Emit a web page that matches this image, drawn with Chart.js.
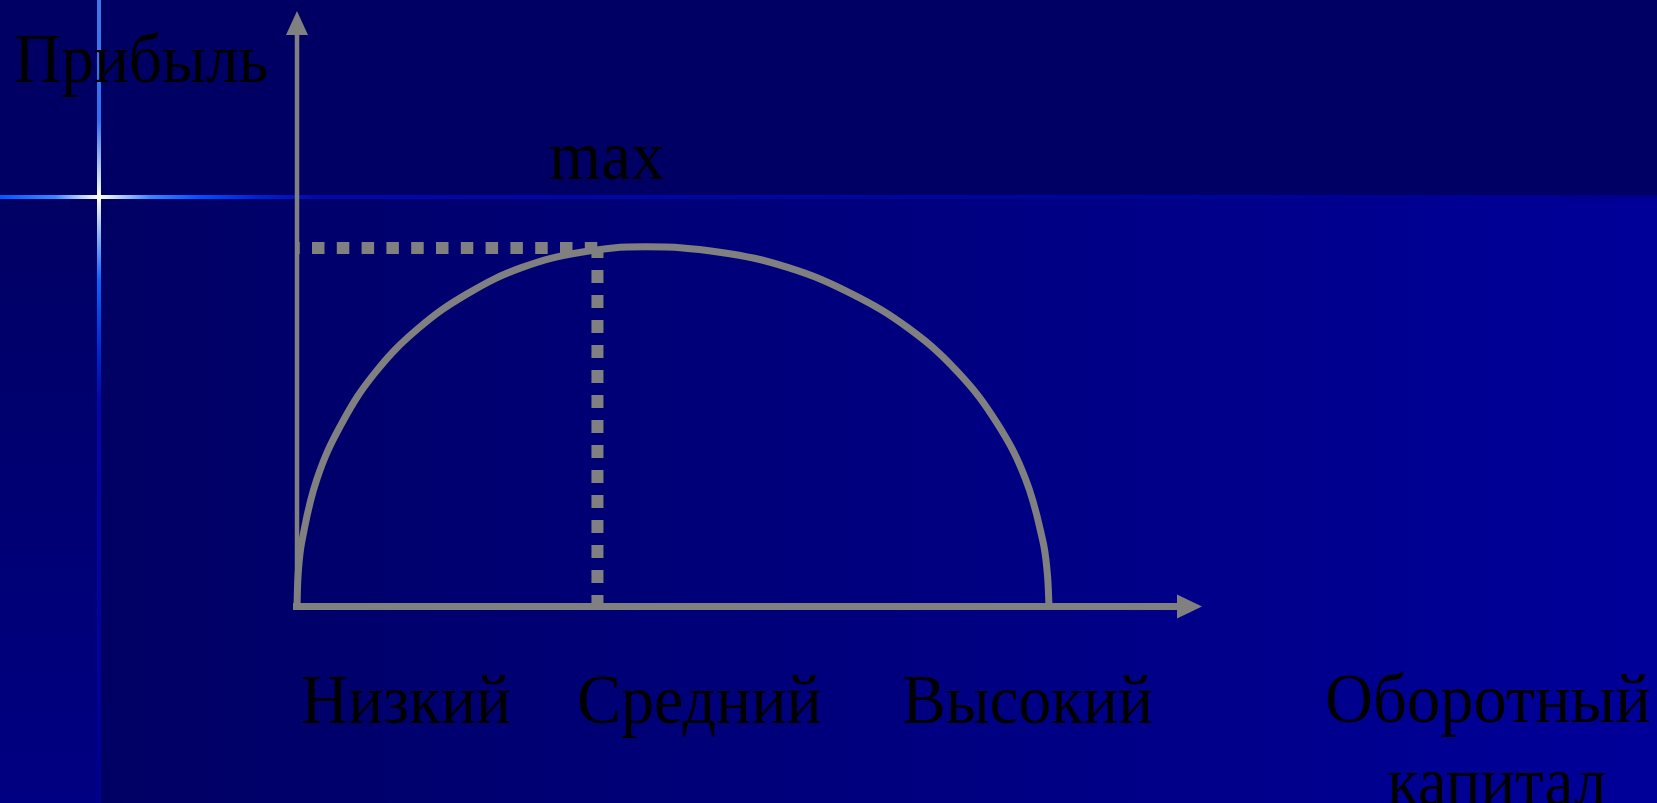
<!DOCTYPE html>
<html>
<head>
<meta charset="utf-8">
<script src="https://cdn.jsdelivr.net/npm/chart.js@4.4.1/dist/chart.umd.min.js"></script>
<style>
  html, body { margin: 0; padding: 0; background: #000066; overflow: hidden; }
  canvas { display: block; }
</style>
</head>
<body>
<canvas id="c" width="1657" height="803"></canvas>
<script>
// ---------------- DATA ----------------
// working capital (x, % of axis length) and profit (y, % of axis height) along the curve
const capital = [0, 0.14, 0.56, 2.2, 5.0, 8.7, 13.4, 18.8, 24.8, 31.4, 38.5,
                 46.7, 54.3, 61.3, 67.6, 73.0, 77.3, 80.5, 82.4, 82.9, 83.1];
const profit  = [0, 5.7, 11.1, 21.4, 30.9, 39.4, 46.7, 52.5, 56.9, 59.5, 60.4,
                 59.5, 56.9, 52.5, 46.7, 39.4, 30.9, 21.4, 11.1, 5.7, 0];
// optimum point
const maxCapital = [33.2];
const maxProfit  = [60.2];
// axis extents
const axisMax = [100];
// texts
const categoryLabels = ['Низкий', 'Средний', 'Высокий'];
const yTitle = ['Прибыль'];
const xTitle = ['Оборотный', 'капитал'];
const maxLabel = ['max'];

// ---------------- LAYOUT / STYLE ----------------
const W = 1657, H = 803;
const GRAY = '#808080';
const FONT = '69px "Liberation Serif", "Times New Roman", serif';
// text boxes: [text, inkLeft, inkRight, baseline]
const textBoxes = [
  [yTitle[0], 15, 267, 82],
  [maxLabel[0], 550, 664, 179],
  [categoryLabels[0], 302, 510, 723],
  [categoryLabels[1], 579, 821, 723],
  [categoryLabels[2], 903, 1152, 723],
  [xTitle[0], 1327, 1650, 722],
  [xTitle[1], 1388, 1605, 805]
];

const backgroundPlugin = {
  id: 'slideBackground',
  beforeDraw(chart) {
    const ctx = chart.ctx;
    ctx.save();
    // main area: horizontal gradient
    let g = ctx.createLinearGradient(100, 0, W, 0);
    g.addColorStop(0, 'rgb(0,0,100)');
    g.addColorStop(1, 'rgb(0,0,153)');
    ctx.fillStyle = g;
    ctx.fillRect(0, 0, W, H);
    // top band
    ctx.fillStyle = 'rgb(0,0,100)';
    ctx.fillRect(0, 0, W, 197);
    // left strip: vertical gradient
    g = ctx.createLinearGradient(0, 197, 0, H);
    g.addColorStop(0, 'rgb(0,0,100)');
    g.addColorStop(1, 'rgb(0,0,130)');
    ctx.fillStyle = g;
    ctx.fillRect(0, 197, 98, H - 197);

    // horizontal flare line
    g = ctx.createLinearGradient(0, 0, W, 0);
    const hx = (x) => x / W;
    g.addColorStop(0, '#0058ff');
    g.addColorStop(hx(55), '#3a86ff');
    g.addColorStop(hx(85), '#c8dcf0');
    g.addColorStop(hx(99), '#fffff0');
    g.addColorStop(hx(115), '#c8dcf0');
    g.addColorStop(hx(150), '#3a86ff');
    g.addColorStop(hx(200), '#0050ff');
    g.addColorStop(hx(260), '#0020d0');
    g.addColorStop(hx(320), '#0008a8');
    g.addColorStop(1, '#00008e');
    ctx.fillStyle = g;
    ctx.fillRect(0, 195, W, 4);

    // vertical flare line
    g = ctx.createLinearGradient(0, 0, 0, H);
    const vy = (y) => y / H;
    g.addColorStop(0, '#3f78e8');
    g.addColorStop(vy(120), '#2f70f0');
    g.addColorStop(vy(175), '#c0d8f0');
    g.addColorStop(vy(197), '#fffff0');
    g.addColorStop(vy(225), '#a8c8f0');
    g.addColorStop(vy(280), '#0a64ff');
    g.addColorStop(vy(340), '#0030d8');
    g.addColorStop(vy(400), '#0008a8');
    g.addColorStop(1, '#000090');
    ctx.fillStyle = g;
    ctx.fillRect(97, 0, 4, H);
    ctx.restore();
  }
};

const axesPlugin = {
  id: 'arrowAxes',
  beforeDatasetsDraw(chart) {
    const ctx = chart.ctx;
    const xs = chart.scales.x, ys = chart.scales.y;
    const x0 = xs.getPixelForValue(0), y0 = ys.getPixelForValue(0);
    const xEnd = xs.getPixelForValue(axisMax[0]), yEnd = ys.getPixelForValue(axisMax[0]);
    ctx.save();
    ctx.strokeStyle = GRAY; ctx.fillStyle = GRAY;
    // Y axis
    ctx.lineWidth = 4.5;
    ctx.beginPath(); ctx.moveTo(x0, y0 + 3); ctx.lineTo(x0, yEnd + 22); ctx.stroke();
    ctx.beginPath(); ctx.moveTo(x0, yEnd); ctx.lineTo(x0 - 11, yEnd + 24); ctx.lineTo(x0 + 11, yEnd + 24); ctx.closePath(); ctx.fill();
    // X axis
    ctx.lineWidth = 7;
    ctx.beginPath(); ctx.moveTo(x0 - 4, y0); ctx.lineTo(xEnd - 22, y0); ctx.stroke();
    ctx.beginPath(); ctx.moveTo(xEnd, y0); ctx.lineTo(xEnd - 25, y0 - 12); ctx.lineTo(xEnd - 25, y0 + 12); ctx.closePath(); ctx.fill();
    ctx.restore();
  }
};

const textPlugin = {
  id: 'slideText',
  afterDraw(chart) {
    const ctx = chart.ctx;
    ctx.save();
    ctx.font = FONT;
    ctx.fillStyle = '#000000';
    ctx.textAlign = 'left';
    ctx.textBaseline = 'alphabetic';
    for (const [str, left, right, base] of textBoxes) {
      const m = ctx.measureText(str);
      const ink = m.actualBoundingBoxLeft + m.actualBoundingBoxRight;
      const sx = (right - left) / ink;
      ctx.save();
      ctx.translate(left, base);
      ctx.scale(sx, 1);
      ctx.fillText(str, m.actualBoundingBoxLeft, 0);
      ctx.restore();
    }
    ctx.restore();
  }
};

const curvePoints = capital.map((x, i) => ({ x, y: profit[i] }));

new Chart(document.getElementById('c'), {
  type: 'scatter',
  data: {
    datasets: [
      {
        label: 'Прибыль',
        data: curvePoints,
        showLine: true,
        borderColor: GRAY,
        borderWidth: 7,
        pointRadius: 0,
        tension: 0.4,
        fill: false,
        clip: false
      },
      {
        label: 'max-h',
        data: [{ x: 0, y: maxProfit[0] }, { x: maxCapital[0], y: maxProfit[0] }],
        showLine: true,
        borderColor: GRAY,
        borderWidth: 12,
        borderDash: [12.5, 12.3],
        borderDashOffset: 9.8,
        borderCapStyle: 'butt',
        pointRadius: 0,
        clip: false
      },
      {
        label: 'max-v',
        data: [{ x: maxCapital[0], y: maxProfit[0] }, { x: maxCapital[0], y: 0 }],
        showLine: true,
        borderColor: GRAY,
        borderWidth: 12,
        borderDash: [13, 12],
        borderDashOffset: 3,
        borderCapStyle: 'butt',
        pointRadius: 0,
        clip: false
      }
    ]
  },
  options: {
    responsive: false,
    animation: false,
    devicePixelRatio: 1,
    layout: { padding: { left: 297, right: W - 1202, top: 11, bottom: H - 606.5 } },
    scales: {
      x: { type: 'linear', min: 0, max: axisMax[0], display: false },
      y: { type: 'linear', min: 0, max: axisMax[0], display: false }
    },
    plugins: {
      legend: { display: false },
      tooltip: { enabled: false },
      title: { display: false }
    }
  },
  plugins: [backgroundPlugin, axesPlugin, textPlugin]
});
</script>
</body>
</html>
